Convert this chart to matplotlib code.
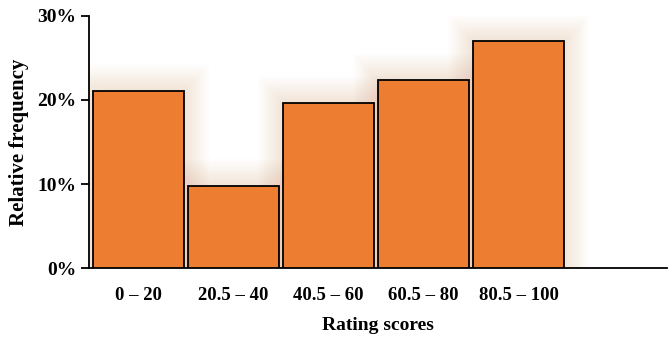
import matplotlib.pyplot as plt
from matplotlib.patches import FancyBboxPatch
from matplotlib.ticker import PercentFormatter

# data
categories = ["0 \u2013 20", "20.5 \u2013 40", "40.5 \u2013 60", "60.5 \u2013 80", "80.5 \u2013 100"]
rel_freq = [21.1, 9.8, 19.7, 22.4, 27.0]

plt.rcParams["font.family"] = ["Liberation Serif", "DejaVu Serif"]
plt.rcParams["font.weight"] = "bold"

fig = plt.figure(figsize=(6.69, 3.46), dpi=100)
ax = fig.add_axes([0.133, 0.2254, 0.864, 0.7284])

x = list(range(len(categories)))
bars = ax.bar(x, rel_freq, width=0.96, color="#ED7D31", edgecolor="black",
              linewidth=1.3, zorder=3)

# soft glow behind the bars
for b in bars:
    for k in range(1, 14):
        pad = 0.02 * k
        glow = FancyBboxPatch((b.get_x() - pad, 0), b.get_width() + 2 * pad,
                              b.get_height() + pad * 12,
                              boxstyle="round,pad=0,rounding_size=0.15",
                              facecolor="#ED7D31", edgecolor="none",
                              alpha=0.012, zorder=1)
        ax.add_patch(glow)

ax.set_xlim(-0.52, 5.56)
ax.set_ylim(0, 30)
ax.set_yticks([0, 10, 20, 30])
ax.yaxis.set_major_formatter(PercentFormatter(decimals=0))
ax.set_xticks(x)
ax.set_xticklabels(categories)
ax.tick_params(axis="x", length=0, pad=14, labelsize=13.5)
ax.tick_params(axis="y", length=6, width=1.3, direction="out", labelsize=14, pad=3)

for s in ["top", "right"]:
    ax.spines[s].set_visible(False)
ax.spines["left"].set_linewidth(1.3)
ax.spines["bottom"].set_linewidth(1.3)

ax.set_xlabel("Rating scores", fontsize=14, fontweight="bold", labelpad=9)
ax.set_ylabel("Relative frequency", fontsize=15, fontweight="bold", labelpad=6)

fig.savefig("out.png", dpi=100)
